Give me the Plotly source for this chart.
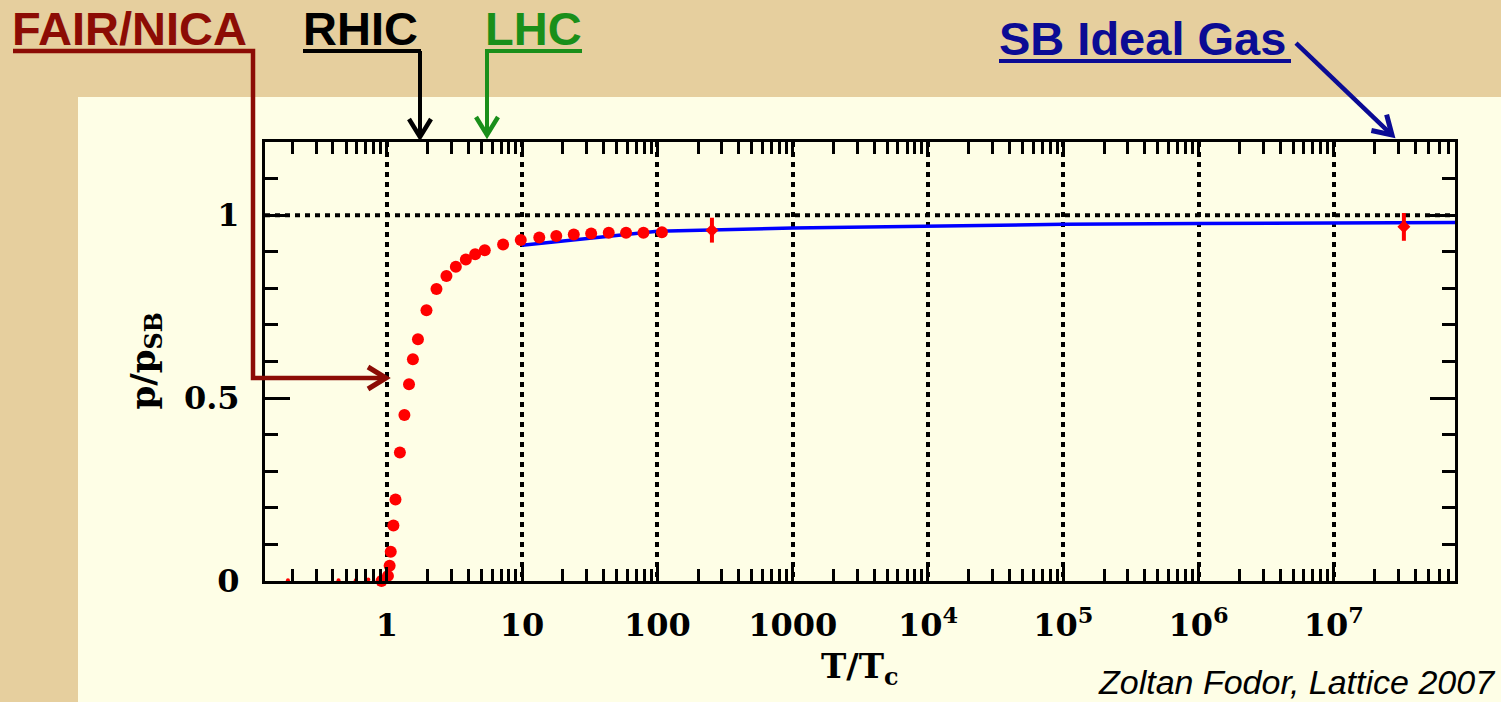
import plotly.graph_objects as go

# ---------------- data ----------------
T_main = [0.914, 1.02, 1.05, 1.07, 1.12, 1.16, 1.25, 1.35, 1.46, 1.56, 1.70,
          1.965, 2.33, 2.76, 3.24, 3.84, 4.50, 5.30, 7.24, 9.78, 13.4, 17.9,
          24.1, 32.4, 43.7, 58.7, 78.9, 108]
p_main = [0.0, 0.014, 0.042, 0.080, 0.152, 0.223, 0.351, 0.454, 0.538, 0.606, 0.661,
          0.740, 0.798, 0.834, 0.859, 0.879, 0.893, 0.904, 0.920, 0.932, 0.939, 0.943,
          0.947, 0.950, 0.952, 0.952, 0.952, 0.953]
T_low = [0.186, 0.44, 0.59, 0.73]
p_low = [0.002, 0.002, 0.002, 0.004]
T_err = [253, 3.29e7]
p_err = [0.959, 0.968]
e_err = [0.034, 0.038]
T_sb = [10, 20, 30, 50, 100, 1e3, 1e4, 1e5, 1e6, 1e7, 8e7]
p_sb = [0.918, 0.929, 0.936, 0.945, 0.956, 0.965, 0.971, 0.975, 0.977, 0.979, 0.980]

x_tickvals = [1, 10, 100, 1e3, 1e4, 1e5, 1e6, 1e7]
x_ticktext = ["1", "10", "100", "1000", "10<sup>4</sup>", "10<sup>5</sup>",
              "10<sup>6</sup>", "10<sup>7</sup>"]
y_tickvals = [0, 0.5, 1]
y_ticktext = ["0", "0.5", "1"]
y_minor = [0.1, 0.2, 0.3, 0.4, 0.6, 0.7, 0.8, 0.9, 1.1]
x_minor = [m * d for d in [0.1, 1, 10, 100, 1e3, 1e4, 1e5, 1e6, 1e7] for m in range(2, 10)]
x_minor = [v for v in x_minor if 0.126 < v < 7.8e7]

# ---------------- geometry helpers (pixel -> paper) ----------------
W, H = 1501, 702
L, R, T, B = 265, 1455, 142, 581
def px(x):
    return (x - L) / (R - L)
def py(y):
    return (B - y) / (B - T)

DARKRED = "#8C0C05"
GREEN = "#1A8F1A"
BLUE = "#0B0B94"
TAN = "#E6CF9E"
CREAM = "#FEFEE6"
SERIF = "DejaVu Serif"
SANS = "Liberation Sans"

fig = go.Figure()
fig.add_trace(go.Scatter(x=T_sb, y=p_sb, mode="lines",
                         line=dict(color="#0000FF", width=3.5), hoverinfo="skip",
                         showlegend=False))
fig.add_trace(go.Scatter(x=T_low, y=p_low, mode="markers",
                         marker=dict(color="#FF0000", size=4), cliponaxis=False,
                         showlegend=False))
fig.add_trace(go.Scatter(x=T_main, y=p_main, mode="markers",
                         marker=dict(color="#FF0000", size=12), cliponaxis=False,
                         showlegend=False))
fig.add_trace(go.Scatter(x=T_err, y=p_err, mode="markers",
                         marker=dict(color="#FF0000", size=10, symbol="diamond"),
                         error_y=dict(type="data", array=e_err, color="#FF0000",
                                      thickness=4, width=0),
                         showlegend=False))

shapes = []
# cream panel
shapes.append(dict(type="rect", xref="paper", yref="paper", layer="below",
                   x0=px(78), x1=px(1510), y0=py(710), y1=py(97),
                   fillcolor=CREAM, line=dict(width=0)))
# horizontal dotted line at p/pSB = 1
shapes.append(dict(type="line", xref="paper", yref="y", x0=0, x1=1, y0=1, y1=1,
                   line=dict(color="black", width=4, dash="5px,5px"), layer="below"))

def path(points):
    return "M " + " L ".join(f"{px(a):.5f},{py(b):.5f}" for a, b in points)

def chevron(tip, frm, back=18, half=11):
    tx, ty = tip
    fx, fy = frm
    dx, dy = tx - fx, ty - fy
    n = (dx * dx + dy * dy) ** 0.5
    dx, dy = dx / n, dy / n
    nx, ny = -dy, dx
    a1 = (tx - back * dx + half * nx, ty - back * dy + half * ny)
    a2 = (tx - back * dx - half * nx, ty - back * dy - half * ny)
    return [a1, tip, a2]

def add_path(points, color, width):
    shapes.append(dict(type="path", xref="paper", yref="paper", path=path(points),
                       line=dict(color=color, width=width)))

# FAIR/NICA
add_path([(13, 51), (253, 51), (253, 378), (385, 378)], DARKRED, 4.5)
add_path(chevron((386, 378), (253, 378)), DARKRED, 5)
# RHIC
add_path([(303, 51), (421, 51)], "black", 4)
add_path([(420, 51), (420, 136)], "black", 4)
add_path(chevron((420, 137), (420, 51)), "black", 4.5)
# LHC
add_path([(485, 51), (582, 51)], GREEN, 4)
add_path([(487, 53), (487, 134)], GREEN, 4)
add_path(chevron((487, 135), (487, 51)), GREEN, 4.5)
# SB Ideal Gas
add_path([(999, 61), (1291, 61)], BLUE, 4)
add_path([(1296, 43), (1391, 134)], BLUE, 4.5)
add_path(chevron((1392, 135), (1296, 43)), BLUE, 5)

annotations = []
def label(text, x, y, color, size=47, anchor="left", font=SANS, italic=False):
    annotations.append(dict(text=text, xref="paper", yref="paper", x=px(x), y=py(y),
                            xanchor=anchor, yanchor="middle", showarrow=False,
                            font=dict(family=font, size=size, color=color,
                                      weight="normal" if italic else "bold",
                                      style="italic" if italic else "normal")))

label("FAIR/NICA", 10, 28, DARKRED)
label("RHIC", 301, 28, "black")
label("LHC", 483, 28, GREEN)
label("SB Ideal Gas", 997, 38, BLUE)
label("Zoltan Fodor, Lattice 2007", 1497, 682, "black", size=34, anchor="right",
      italic=True)
annotations.append(dict(text="T/T<sub>c</sub>", xref="paper", yref="paper",
                        x=0.5, y=py(668), xanchor="center", yanchor="middle",
                        showarrow=False,
                        font=dict(family=SERIF, size=34, color="black", weight="bold")))
annotations.append(dict(text="p/p<sub>SB</sub>", xref="paper", yref="paper",
                        x=px(145), y=0.5, xanchor="center", yanchor="middle",
                        textangle=-90, showarrow=False,
                        font=dict(family=SERIF, size=34, color="black", weight="bold")))

fig.update_layout(
    width=W, height=H,
    margin=dict(l=L, r=W - R, t=T, b=H - B, pad=0),
    paper_bgcolor=TAN, plot_bgcolor=CREAM,
    shapes=shapes, annotations=annotations, showlegend=False,
    xaxis=dict(type="log", range=[-0.9, 7.895], tickvals=x_tickvals, ticktext=x_ticktext,
               ticks="inside", ticklen=14, tickwidth=3, tickcolor="black",
               showline=True, linewidth=3, linecolor="black", mirror="ticks",
               showgrid=True, gridcolor="black", gridwidth=4, griddash="5px,5px",
               zeroline=False, ticklabelstandoff=14,
               tickfont=dict(family=SERIF, size=32, color="black", weight="bold"),
               minor=dict(tickvals=x_minor, ticks="inside", ticklen=12, tickwidth=3,
                          tickcolor="black", showgrid=False)),
    yaxis=dict(range=[0, 1.2], tickvals=y_tickvals, ticktext=y_ticktext,
               ticks="inside", ticklen=25, tickwidth=3, tickcolor="black",
               showline=True, linewidth=3, linecolor="black", mirror="ticks",
               showgrid=False, zeroline=False, ticklabelstandoff=16,
               tickfont=dict(family=SERIF, size=32, color="black", weight="bold"),
               minor=dict(tickvals=y_minor, ticks="inside", ticklen=13, tickwidth=3,
                          tickcolor="black", showgrid=False)),
)

fig.write_html("out.html", config={"displayModeBar": False},
               post_script="document.body.style.margin='0';"
                           "document.body.style.overflow='hidden';")
